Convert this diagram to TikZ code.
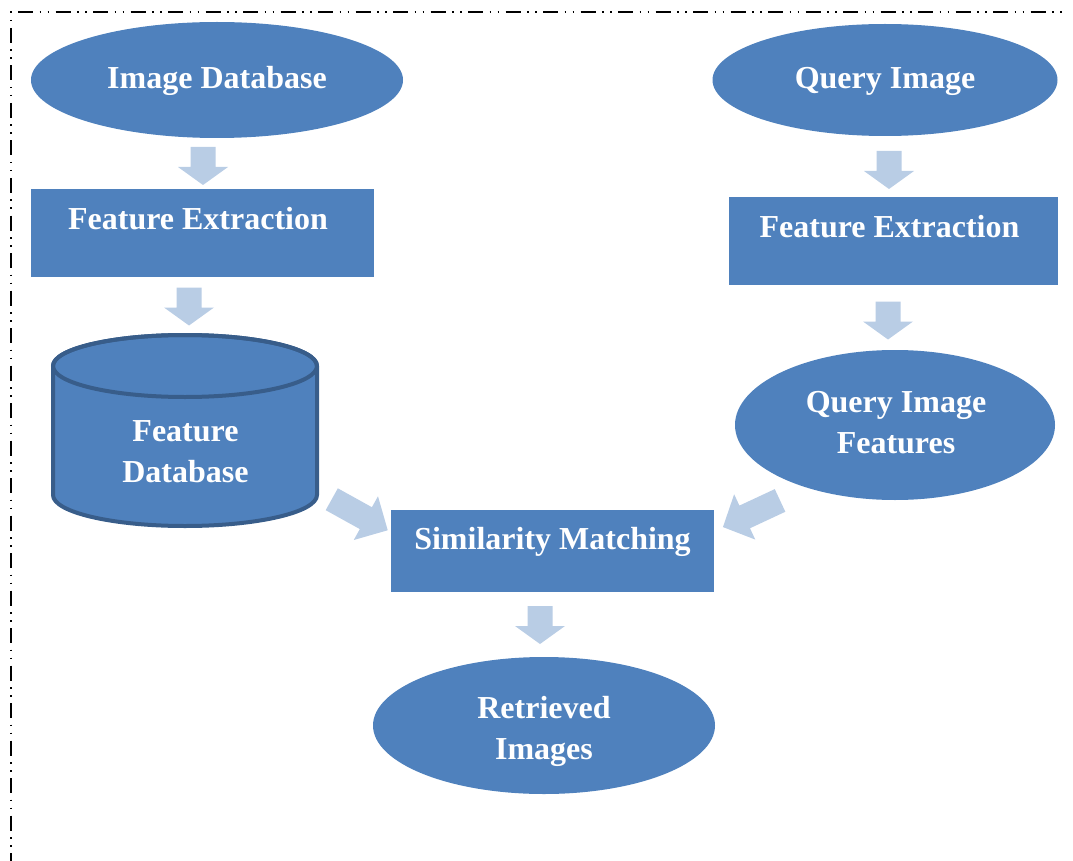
\documentclass[tikz,border=0pt]{standalone}
\usepackage{fontspec}
\setmainfont{Liberation Serif}
\usetikzlibrary{shapes.geometric}
\definecolor{boxblue}{HTML}{4F81BD}
\definecolor{rimblue}{HTML}{385D8A}
\definecolor{arrowblue}{HTML}{B9CDE5}
\def\arrshaft{20}
\def\arrhead{18}
\tikzset{
  arrow shaft/.store in=\arrshaft,
  arrow head/.store in=\arrhead,
  blockarrow/.pic={
    \fill[arrowblue]
      ({-(\arrshaft+\arrhead)/2},-12.5) -- ({(\arrshaft-\arrhead)/2},-12.5)
      -- ({(\arrshaft-\arrhead)/2},-25) -- ({(\arrshaft+\arrhead)/2},0)
      -- ({(\arrshaft-\arrhead)/2},25) -- ({(\arrshaft-\arrhead)/2},12.5)
      -- ({-(\arrshaft+\arrhead)/2},12.5) -- cycle;
  }
}
\begin{document}
\begin{tikzpicture}[x=1pt,y=-1pt,
  every node/.style={inner sep=0pt, outer sep=0pt},
  labeltext/.style={font=\fontsize{32}{41}\selectfont\bfseries, text=white,
    anchor=base, align=center},
  stagebox/.style={rectangle, fill=boxblue},
  stageoval/.style={ellipse, fill=boxblue},
  borderline/.style={line width=1.3pt, black,
    dash pattern=on 15pt off 6.5pt on 1.5pt off 6.5pt on 1.5pt off 6.5pt}
]
\useasboundingbox (0,0) rectangle (1073,861);

% frame: top and left edges only
\draw[borderline, dash phase=29.5pt] (10,12) -- (1068,12);
\draw[borderline, dash phase=21.5pt] (11,12) -- (11,861);

% left branch
\node[stageoval, minimum width=372, minimum height=116] (imgdb) at (217,80) {};
\node[labeltext] (imgdbt) at (217,89) {Image Database};

\node[stagebox, minimum width=343, minimum height=88] (fe1) at (202.5,233) {};
\node[labeltext] (fe1t) at (198,229.5) {Feature Extraction};

% feature database cylinder
\path[fill=boxblue, draw=rimblue, line width=4pt]
  (53,366) -- (53,495)
  arc[start angle=180, end angle=0, x radius=132, y radius=31]
  -- (317,366)
  arc[start angle=0, end angle=-180, x radius=132, y radius=31] -- cycle;
\draw[rimblue, line width=4pt] (185,366) ellipse [x radius=132, y radius=31];
\coordinate (featdb) at (185,430);
\node[labeltext] (featdbt) at (185.5,482) {Feature\\Database};

% right branch
\node[stageoval, minimum width=345, minimum height=112] (qimg) at (885,80) {};
\node[labeltext] (qimgt) at (885,89) {Query Image};

\node[stagebox, minimum width=329, minimum height=88] (fe2) at (893.5,241) {};
\node[labeltext] (fe2t) at (889.5,237.5) {Feature Extraction};

\node[stageoval, minimum width=320, minimum height=150] (qif) at (895,425) {};
\node[labeltext] (qift) at (896,453) {Query Image\\Features};

% matching and result
\node[stagebox, minimum width=323, minimum height=82] (sim) at (552.5,551) {};
\node[labeltext] (simt) at (552.5,549.5) {Similarity Matching};

\node[stageoval, minimum width=342, minimum height=137] (ret) at (544,725.5) {};
\node[labeltext] (rett) at (544,759) {Retrieved\\Images};

% block arrows
\pic[rotate=-90] at (203,166) {blockarrow};
\pic[rotate=-90] at (189,306.5) {blockarrow};
\pic[rotate=-90] at (889,170) {blockarrow};
\pic[rotate=-90] at (888,320.5) {blockarrow};
\pic[rotate=-90] at (540,625) {blockarrow};
\pic[rotate=-29, arrow shaft=39, arrow head=25] at (359.75,514.75) {blockarrow};
\pic[rotate=205, arrow shaft=39, arrow head=24] at (751.5,513.75) {blockarrow};
\end{tikzpicture}
\end{document}
